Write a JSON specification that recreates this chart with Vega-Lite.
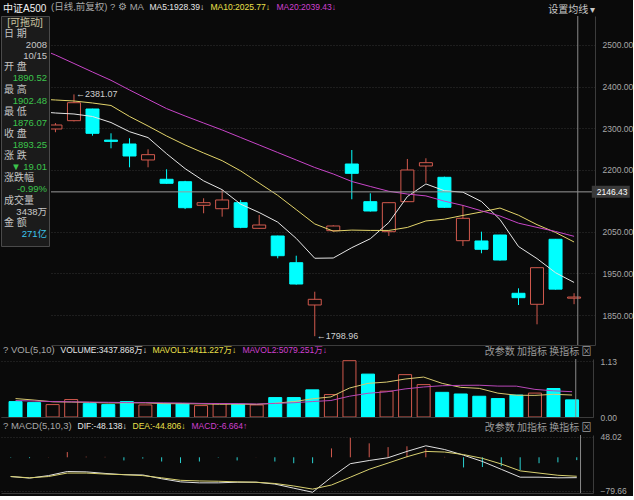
{
  "$schema": "https://vega.github.io/schema/vega-lite/v6.json",
  "background": "#0a0a0a",
  "padding": {"left": 0, "top": 3, "right": 0, "bottom": 0},
  "spacing": 0,
  "resolve": {"scale": {"color": "independent"}, "legend": {"color": "independent"}},
  "config": {
    "font": "Liberation Sans, Noto Sans CJK SC",
    "view": {"stroke": null},
    "axis": {"labelFont": "Liberation Sans", "labelFontSize": 8.5, "labelColor": "#a8a8a8", "ticks": false, "domainColor": "#3c3c3c", "gridColor": "#333333", "gridDash": [1, 2], "titleFontWeight": "normal", "titleFont": "Noto Sans CJK SC", "titleFontSize": 10},
    "legend": {"symbolSize": 1, "symbolStrokeWidth": 0, "symbolOpacity": 0, "labelOffset": -6, "columnPadding": 3, "gridAlign": "none", "labelFontSize": 8.5, "titleFontSize": 9.5, "titleColor": "#a8a8a8", "titleFontWeight": "normal", "titleOrient": "left", "padding": 0, "titlePadding": 3, "labelFont": "Liberation Sans, Noto Sans CJK SC", "titleFont": "Liberation Sans, Noto Sans CJK SC", "labelLimit": 300, "direction": "horizontal", "orient": "none"}
  },
  "datasets": {
    "k": [
      {"i":0,"o":2330,"h":2345,"l":2300,"c":2310,"v":3090,"vu":false,"m5":2345,"m10":2372,"m20":2512,"mv1":3700,"mv2":3300,"dif":-45.5,"dea":-45.5,"macd":-1.0},
      {"i":1,"o":2305,"h":2310,"l":2280,"c":2290,"v":2890,"vu":false,"m5":2340,"m10":2370,"m20":2494,"mv1":3400,"mv2":3200,"dif":-49.2,"dea":-48.5,"macd":-2.0},
      {"i":2,"o":2297.8,"h":2312,"l":2290,"c":2307.4,"v":2490,"vu":true,"m5":2336.3,"m10":2367.6,"m20":2475.9,"mv1":3050,"mv2":3100,"dif":-43.3,"dea":-45.5,"macd":0.5},
      {"i":3,"o":2317.8,"h":2381.07,"l":2316,"c":2361.1,"v":3500,"vu":true,"m5":2333.9,"m10":2365.2,"m20":2455.5,"mv1":3000,"mv2":3050,"dif":-33.6,"dea":-37.3,"macd":12.4},
      {"i":4,"o":2345.9,"h":2346.5,"l":2281.7,"c":2287.4,"v":2690,"vu":false,"m5":2327.9,"m10":2360.4,"m20":2435.0,"mv1":2932,"mv2":3000,"dif":-34.4,"dea":-37.3,"macd":1.5},
      {"i":5,"o":2271,"h":2287.4,"l":2251.3,"c":2268,"v":2490,"vu":false,"m5":2313.4,"m10":2354.4,"m20":2415.0,"mv1":2812,"mv2":2950,"dif":-38.1,"dea":-39.6,"macd":1.0},
      {"i":6,"o":2261.7,"h":2275.4,"l":2205.6,"c":2232.8,"v":3090,"vu":false,"m5":2291.3,"m10":2327.9,"m20":2391.7,"mv1":2852,"mv2":2900,"dif":-41.1,"dea":-41.1,"macd":-7.4},
      {"i":7,"o":2223.2,"h":2248.9,"l":2205.6,"c":2236,"v":2420,"vu":true,"m5":2277.1,"m10":2305,"m20":2369.3,"mv1":2838,"mv2":2880,"dif":-41.8,"dea":-43.3,"macd":-3.0},
      {"i":8,"o":2176.7,"h":2200.8,"l":2166,"c":2167.1,"v":2690,"vu":false,"m5":2238.3,"m10":2281,"m20":2346.9,"mv1":2676,"mv2":2850,"dif":-50.7,"dea":-48.5,"macd":-10},
      {"i":9,"o":2170.9,"h":2173,"l":2105,"c":2108.3,"v":2690,"vu":false,"m5":2202.4,"m10":2259.3,"m20":2329.1,"mv1":2676,"mv2":2804,"dif":-58.1,"dea":-54.4,"macd":-13.6},
      {"i":10,"o":2114.1,"h":2131,"l":2094.9,"c":2120.4,"v":2290,"vu":true,"m5":2172.9,"m10":2240.1,"m20":2312.2,"mv1":2636,"mv2":2724,"dif":-60.4,"dea":-55.9,"macd":-10},
      {"i":11,"o":2105.9,"h":2150.9,"l":2086.7,"c":2126.9,"v":2690,"vu":true,"m5":2151.7,"m10":2221.5,"m20":2295.4,"mv1":2556,"mv2":2704,"dif":-60.4,"dea":-56.6,"macd":-1},
      {"i":12,"o":2120.4,"h":2126.9,"l":2059,"c":2061.1,"v":2560,"vu":false,"m5":2116.8,"m10":2196.9,"m20":2277.3,"mv1":2584,"mv2":2711,"dif":-58.9,"dea":-58.1,"macd":-7.4},
      {"i":13,"o":2058.7,"h":2090.8,"l":2058,"c":2066.7,"v":2420,"vu":true,"m5":2096.7,"m10":2167.5,"m20":2259.3,"mv1":2530,"mv2":2603,"dif":-58.9,"dea":-58.9,"macd":0.3},
      {"i":14,"o":2040.2,"h":2041,"l":1986.5,"c":1992.8,"v":3900,"vu":false,"m5":2073.6,"m10":2138.0,"m20":2241.2,"mv1":2772,"mv2":2724,"dif":-63.3,"dea":-61.9,"macd":-10},
      {"i":15,"o":1975.9,"h":1992.8,"l":1923,"c":1924.6,"v":3900,"vu":false,"m5":2034.4,"m10":2103.7,"m20":2223.2,"mv1":3094,"mv2":2865,"dif":-73.0,"dea":-67.8,"macd":-14},
      {"i":16,"o":1874.1,"h":1906.1,"l":1798.96,"c":1887.8,"v":5450,"vu":false,"m5":1986.6,"m10":2069.2,"m20":2205.1,"mv1":3646,"mv2":3101,"dif":-82.6,"dea":-75.2,"macd":-14},
      {"i":17,"o":2053.0,"h":2066,"l":2051,"c":2064.3,"v":4500,"vu":true,"m5":1987.2,"m10":2052.0,"m20":2189.5,"mv1":4034,"mv2":3309,"dif":-47.0,"dea":-65.5,"macd":21},
      {"i":18,"o":2213.5,"h":2247.2,"l":2128.6,"c":2191.1,"v":11300,"vu":true,"m5":2012.1,"m10":2054.4,"m20":2171.4,"mv1":5810,"mv2":4170,"dif":-15.1,"dea":-47.0,"macd":46},
      {"i":19,"o":2122.8,"h":2143,"l":2099,"c":2100.4,"v":8610,"vu":false,"m5":2033.6,"m10":2053.6,"m20":2159.4,"mv1":6752,"mv2":4762,"dif":-7.6,"dea":-28.4,"macd":33},
      {"i":20,"o":2050.6,"h":2121,"l":2040.2,"c":2120.4,"v":5180,"vu":true,"m5":2072.8,"m10":2053.6,"m20":2147.8,"mv1":7008,"mv2":5051,"dif":-1.0,"dea":-13.6,"macd":24},
      {"i":21,"o":2122.8,"h":2225.6,"l":2122,"c":2199.1,"v":8500,"vu":true,"m5":2135.1,"m10":2060.8,"m20":2141.2,"mv1":7618,"mv2":5632,"dif":13.9,"dea":1.3,"macd":26},
      {"i":22,"o":2208.7,"h":2227.3,"l":2168.5,"c":2216.7,"v":6500,"vu":true,"m5":2165.5,"m10":2076.4,"m20":2136.7,"mv1":8018,"mv2":6026,"dif":27.2,"dea":13.9,"macd":20},
      {"i":23,"o":2181.5,"h":2183,"l":2108,"c":2109.3,"v":4950,"vu":false,"m5":2149.2,"m10":2080.7,"m20":2124.1,"mv1":6748,"mv2":6279,"dif":18.3,"dea":12.4,"macd":1},
      {"i":24,"o":2028.9,"h":2114.8,"l":2016.1,"c":2082.8,"v":4620,"vu":false,"m5":2145.7,"m10":2089.7,"m20":2113.8,"mv1":5950,"mv2":6351,"dif":5.0,"dea":6.4,"macd":-24},
      {"i":25,"o":2028.2,"h":2050.6,"l":1998.6,"c":2008.2,"v":4167,"vu":false,"m5":2123.2,"m10":2098.0,"m20":2100.8,"mv1":5747,"mv2":6378,"dif":-9.9,"dea":-2.5,"macd":-23},
      {"i":26,"o":2042.6,"h":2043,"l":1981,"c":1982.4,"v":3700,"vu":false,"m5":2079.9,"m10":2107.5,"m20":2088.3,"mv1":4787,"mv2":6203,"dif":-28.4,"dea":-15.8,"macd":-21},
      {"i":27,"o":1902.3,"h":1914.3,"l":1874.1,"c":1891.7,"v":4400,"vu":false,"m5":2014.9,"m10":2090.2,"m20":2071.1,"mv1":4367,"mv2":6193,"dif":-47.0,"dea":-32.1,"macd":-30},
      {"i":28,"o":1875.8,"h":1964,"l":1827.6,"c":1963.9,"v":4800,"vu":true,"m5":1985.8,"m10":2067.5,"m20":2060.9,"mv1":4337,"mv2":5543,"dif":-47.0,"dea":-37.3,"macd":-14},
      {"i":29,"o":2032.3,"h":2033,"l":1911,"c":1912.26,"v":5718,"vu":false,"m5":1951.8,"m10":2048.7,"m20":2051.1,"mv1":4557,"mv2":5254,"dif":-48.5,"dea":-42.5,"macd":-12},
      {"i":30,"o":1890.52,"h":1902.48,"l":1876.07,"c":1893.25,"v":3437.868,"vu":false,"m5":1928.39,"m10":2025.77,"m20":2039.43,"mv1":4411.227,"mv2":5079.251,"dif":-48.138,"dea":-44.806,"macd":-6.664}
    ],
    "cross": [{"ci": 30.2, "cp": 2146.43}],
    "ann": [{"i": 3, "p": 2381.07, "t": "←2381.07"}, {"i": 16, "p": 1798.96, "t": "←1798.96"}],
    "info": [
      {"r":0,"t":"[可拖动]","s":"C","k":"h"},
      {"r":1,"t":"日 期","s":"L","k":"l"},
      {"r":2,"t":"2008","s":"R","k":"w"},
      {"r":3,"t":"10/15","s":"R","k":"w"},
      {"r":4,"t":"开 盘","s":"L","k":"l"},
      {"r":5,"t":"1890.52","s":"R","k":"g"},
      {"r":6,"t":"最 高","s":"L","k":"l"},
      {"r":7,"t":"1902.48","s":"R","k":"g"},
      {"r":8,"t":"最 低","s":"L","k":"l"},
      {"r":9,"t":"1876.07","s":"R","k":"g"},
      {"r":10,"t":"收 盘","s":"L","k":"l"},
      {"r":11,"t":"1893.25","s":"R","k":"g"},
      {"r":12,"t":"涨 跌","s":"L","k":"l"},
      {"r":13,"t":"▼ 19.01","s":"R","k":"g"},
      {"r":14,"t":"涨跌幅","s":"L","k":"l"},
      {"r":15,"t":"-0.99%","s":"R","k":"g"},
      {"r":16,"t":"成交量","s":"L","k":"l"},
      {"r":17,"t":"3438万","s":"R","k":"w"},
      {"r":18,"t":"金 额","s":"L","k":"l"},
      {"r":19,"t":"271亿","s":"R","k":"c"}
    ]
  },
  "vconcat": [
    {
      "spacing": 0,
      "resolve": {"scale": {"color": "independent"}, "legend": {"color": "independent"}},
      "hconcat": [
        {
          "width": 48,
          "height": 230,
          "view": {"fill": "#1b1b1b", "stroke": "#4a4a4a"},
          "title": {"text": "中证A500", "anchor": "start", "color": "#f2f2f2", "fontSize": 10, "offset": 2, "dx": 2, "fontWeight": "normal", "font": "Liberation Sans, Noto Sans CJK SC"},
          "data": {"name": "info"},
          "encoding": {
            "x": {"field": "s", "type": "nominal", "scale": {"type": "point", "domain": ["L", "C", "R"], "padding": 0}, "axis": null},
            "y": {"field": "r", "type": "quantitative", "scale": {"domain": [-0.63, 20.09], "reverse": true, "nice": false, "zero": false}, "axis": null},
            "text": {"field": "t"},
            "color": {"field": "k", "type": "nominal", "scale": {"domain": ["h", "l", "w", "g", "c"], "range": ["#c9c3a0", "#c4c4c4", "#c8c8c8", "#3cc44c", "#3cc6ef"]}, "legend": null}
          },
          "layer": [
            {"transform": [{"filter": "datum.s == 'L'"}], "mark": {"type": "text", "align": "left", "dx": 3, "fontSize": 10}},
            {"transform": [{"filter": "datum.s == 'C'"}], "mark": {"type": "text", "align": "center", "fontSize": 10}},
            {"transform": [{"filter": "datum.s == 'R'"}], "mark": {"type": "text", "align": "right", "dx": -2, "fontSize": 9.5}}
          ]
        },
        {
          "width": 544,
          "height": 329,
          "data": {"name": "k"},
          "layer": [
            {
              "mark": {"type": "rule", "clip": true, "strokeWidth": 1},
              "encoding": {
                "x": {"field": "i", "type": "quantitative", "scale": {"domain": [2.03, 30.86], "nice": false, "zero": false}, "axis": {"orient": "bottom", "labels": false, "ticks": false, "grid": false, "domain": true, "title": null}},
                "y": {"field": "l", "type": "quantitative", "scale": {"domain": [1777.8, 2569.8], "nice": false, "zero": false}, "axis": {"orient": "right", "values": [1850, 1900, 1950, 2000, 2050, 2100, 2200, 2250, 2300, 2350, 2400, 2450, 2500], "format": ".2f", "grid": true, "domain": true, "labelPadding": 7, "title": "设置均线 ▾", "titleAngle": 0, "titleAlign": "right", "titleBaseline": "bottom", "titleX": 0, "titleY": -2, "titleColor": "#c8c8c8"}},
                "y2": {"field": "h"},
                "color": {"condition": {"test": "datum.c >= datum.o", "value": "#d25a4e"}, "value": "#00ffff"}
              }
            },
            {
              "mark": {"type": "bar", "width": 13, "clip": true, "strokeWidth": 1},
              "encoding": {
                "x": {"field": "i", "type": "quantitative"},
                "y": {"field": "o", "type": "quantitative"},
                "y2": {"field": "c"},
                "fill": {"condition": {"test": "datum.c >= datum.o", "value": "#0a0a0a"}, "value": "#00ffff"},
                "stroke": {"condition": {"test": "datum.c >= datum.o", "value": "#d25a4e"}, "value": "#00ffff"}
              }
            },
            {
              "transform": [{"fold": ["m5", "m10", "m20"], "as": ["s", "p"]}],
              "mark": {"type": "line", "clip": true, "strokeWidth": 1},
              "encoding": {
                "x": {"field": "i", "type": "quantitative"},
                "y": {"field": "p", "type": "quantitative"},
                "color": {"field": "s", "type": "nominal", "scale": {"domain": ["m5", "m10", "m20"], "range": ["#e6e6e6", "#e3d46a", "#c845c8"]},
                  "legend": {"title": "(日线,前复权) ? ⚙ MA", "legendX": 0, "legendY": -13,
                    "labelExpr": "datum.value == 'm5' ? 'MA5:1928.39↓' : datum.value == 'm10' ? 'MA10:2025.77↓' : 'MA20:2039.43↓'",
                    "encode": {"labels": {"update": {"fill": {"signal": "datum.value == 'm5' ? '#e6e6e6' : datum.value == 'm10' ? '#ece04a' : '#d040d0'"}}}}}}
              }
            },
            {"data": {"name": "cross"}, "mark": {"type": "rule", "color": "#9a9a9a", "strokeWidth": 1}, "encoding": {"y": {"field": "cp", "type": "quantitative"}}},
            {"data": {"name": "cross"}, "mark": {"type": "rule", "color": "#8a8a8a", "strokeWidth": 1}, "encoding": {"x": {"field": "ci", "type": "quantitative"}}},
            {"data": {"name": "cross"}, "mark": {"type": "tick", "orient": "horizontal", "size": 38, "thickness": 12, "color": "#3a3a3a", "opacity": 1, "xOffset": 33, "clip": false}, "encoding": {"x": {"field": "ci", "type": "quantitative"}, "y": {"field": "cp", "type": "quantitative"}}},
            {"data": {"name": "cross"}, "mark": {"type": "text", "align": "left", "dx": 19, "color": "#ffffff", "fontSize": 8.5, "font": "Liberation Sans", "clip": false}, "encoding": {"x": {"field": "ci", "type": "quantitative"}, "y": {"field": "cp", "type": "quantitative"}, "text": {"field": "cp", "format": ".2f"}}},
            {"data": {"name": "ann"}, "mark": {"type": "text", "align": "left", "dx": 2, "color": "#d0d0d0", "fontSize": 9, "font": "Liberation Sans"}, "encoding": {"x": {"field": "i", "type": "quantitative"}, "y": {"field": "p", "type": "quantitative"}, "text": {"field": "t"}}}
          ]
        }
      ]
    },
    {
      "width": 592,
      "height": 58,
      "data": {"name": "k"},
      "layer": [
        {
          "mark": {"type": "bar", "width": 13, "strokeWidth": 1, "clip": true},
          "encoding": {
            "x": {"field": "i", "type": "quantitative", "scale": {"domain": [-0.514, 30.86], "nice": false, "zero": false}, "axis": {"orient": "bottom", "labels": false, "ticks": false, "grid": false, "domain": true, "title": null}},
            "y": {"field": "v", "type": "quantitative", "scale": {"domain": [0, 11640], "nice": false}, "axis": {"orient": "right", "values": [0, 5606, 11212], "labelExpr": "datum.value > 10000 ? '1.13' : format(datum.value, '.2f')", "grid": true, "domain": true, "labelPadding": 7, "title": "改参数  加指标  换指标  ⊠", "titleAngle": 0, "titleAlign": "right", "titleBaseline": "bottom", "titleX": -2, "titleY": -3, "titleColor": "#9a9a9a"}},
            "fill": {"condition": {"test": "datum.vu", "value": "#0a0a0a"}, "value": "#00ffff"},
            "stroke": {"condition": {"test": "datum.vu", "value": "#d25a4e"}, "value": "#00ffff"}
          }
        },
        {
          "transform": [{"fold": ["mv1", "mv2"], "as": ["s", "p"]}],
          "mark": {"type": "line", "strokeWidth": 1, "clip": true},
          "encoding": {
            "x": {"field": "i", "type": "quantitative"},
            "y": {"field": "p", "type": "quantitative"},
            "color": {"field": "s", "type": "nominal", "scale": {"domain": ["vol", "mv1", "mv2"], "range": ["#e6e6e6", "#d8c870", "#b848b8"]},
              "legend": {"title": "? VOL(5,10)", "legendX": 2, "legendY": -13,
                "labelExpr": "datum.value == 'vol' ? 'VOLUME:3437.868万↓' : datum.value == 'mv1' ? 'MAVOL1:4411.227万↓' : 'MAVOL2:5079.251万↓'",
                "encode": {"labels": {"update": {"fill": {"signal": "datum.value == 'vol' ? '#e6e6e6' : datum.value == 'mv1' ? '#ece04a' : '#d040d0'"}}}}}}
          }
        },
        {"data": {"name": "cross"}, "mark": {"type": "rule", "color": "#8a8a8a", "strokeWidth": 1}, "encoding": {"x": {"field": "ci", "type": "quantitative"}}}
      ]
    },
    {
      "width": 592,
      "height": 58,
      "data": {"name": "k"},
      "layer": [
        {
          "mark": {"type": "rule", "strokeWidth": 1, "clip": true},
          "encoding": {
            "x": {"field": "i", "type": "quantitative", "scale": {"domain": [-0.514, 30.86], "nice": false, "zero": false}, "axis": {"orient": "bottom", "labels": false, "ticks": false, "grid": false, "domain": true, "title": null}},
            "y": {"field": "macd", "type": "quantitative", "scale": {"domain": [-84.4, 52.7], "nice": false, "zero": false}, "axis": {"orient": "right", "values": [48.02, -15.82, -79.66], "format": ".2f", "grid": true, "domain": true, "labelPadding": 7, "title": "改参数  加指标  换指标  ⊠", "titleAngle": 0, "titleAlign": "right", "titleBaseline": "bottom", "titleX": -2, "titleY": -3, "titleColor": "#9a9a9a"}},
            "y2": {"datum": 0},
            "color": {"condition": {"test": "datum.macd >= 0", "value": "#d25a4e"}, "value": "#2ad0d0"}
          }
        },
        {
          "transform": [{"fold": ["dif", "dea"], "as": ["s", "p"]}],
          "mark": {"type": "line", "strokeWidth": 1, "clip": true},
          "encoding": {
            "x": {"field": "i", "type": "quantitative"},
            "y": {"field": "p", "type": "quantitative"},
            "color": {"field": "s", "type": "nominal", "scale": {"domain": ["dif", "dea", "macd"], "range": ["#e0e0e0", "#d8d070", "#d040d0"]},
              "legend": {"title": "? MACD(5,10,3)", "legendX": 2, "legendY": -13,
                "labelExpr": "datum.value == 'dif' ? 'DIF:-48.138↓' : datum.value == 'dea' ? 'DEA:-44.806↓' : 'MACD:-6.664↑'",
                "encode": {"labels": {"update": {"fill": {"signal": "datum.value == 'dif' ? '#e6e6e6' : datum.value == 'dea' ? '#ece04a' : '#d040d0'"}}}}}}
          }
        },
        {"data": {"name": "cross"}, "mark": {"type": "rule", "color": "#8a8a8a", "strokeWidth": 1}, "encoding": {"x": {"field": "ci", "type": "quantitative"}}}
      ]
    }
  ]
}
